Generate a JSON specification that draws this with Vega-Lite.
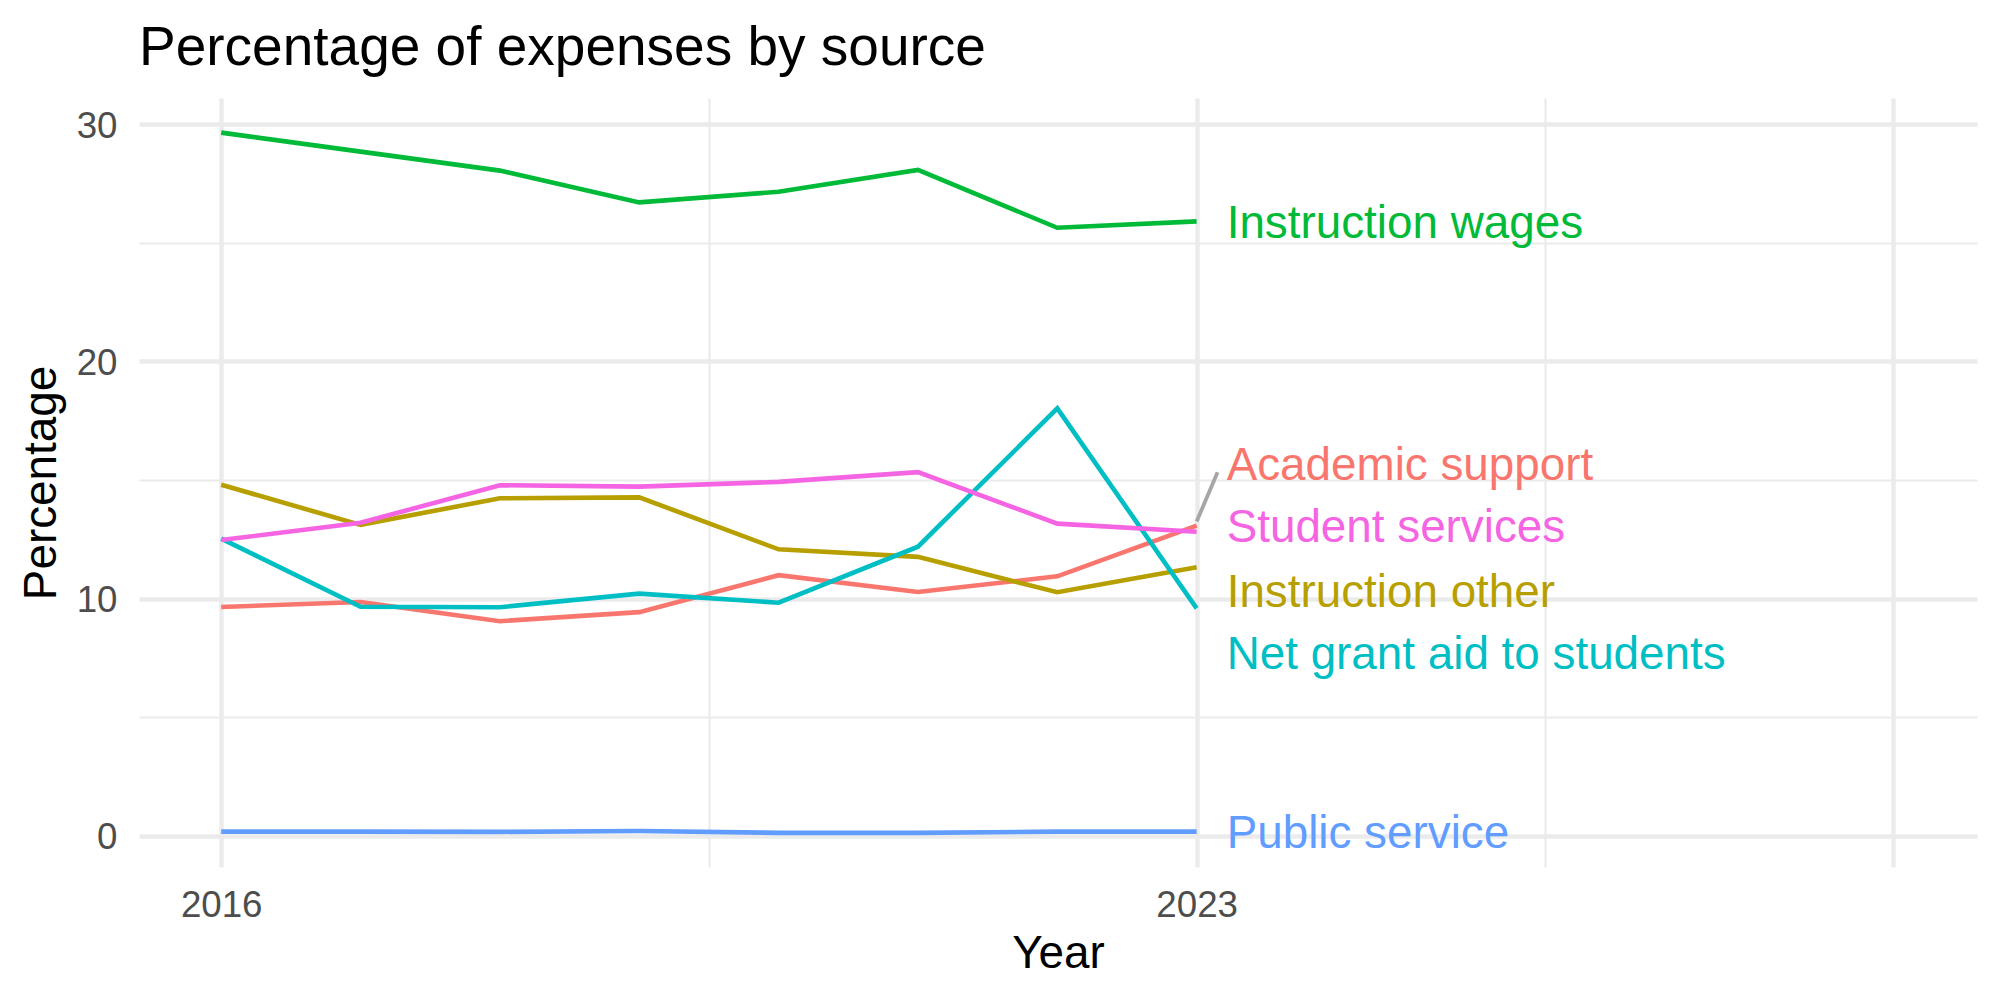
{
  "$schema": "https://vega.github.io/schema/vega-lite/v6.json",
  "width": 1838,
  "height": 769,
  "autosize": {"type": "none"},
  "padding": {"left": 139, "top": 98, "right": 23, "bottom": 133},
  "background": "white",
  "config": {"view": {"stroke": null}, "font": "Liberation Sans"},
  "title": {
    "text": "Percentage of expenses by source",
    "anchor": "start",
    "frame": "group",
    "font": "Liberation Sans",
    "fontSize": 55,
    "fontWeight": "normal",
    "color": "black",
    "baseline": "alphabetic",
    "offset": -22
  },
  "datasets": {
    "expenses": [
      {"year": 2016, "category": "Academic support", "value": 9.65},
      {"year": 2017, "category": "Academic support", "value": 9.86},
      {"year": 2018, "category": "Academic support", "value": 9.05},
      {"year": 2019, "category": "Academic support", "value": 9.43},
      {"year": 2020, "category": "Academic support", "value": 10.99},
      {"year": 2021, "category": "Academic support", "value": 10.28},
      {"year": 2022, "category": "Academic support", "value": 10.94},
      {"year": 2023, "category": "Academic support", "value": 13.08},
      {"year": 2016, "category": "Instruction other", "value": 14.80},
      {"year": 2017, "category": "Instruction other", "value": 13.11},
      {"year": 2018, "category": "Instruction other", "value": 14.23},
      {"year": 2019, "category": "Instruction other", "value": 14.27},
      {"year": 2020, "category": "Instruction other", "value": 12.08},
      {"year": 2021, "category": "Instruction other", "value": 11.76},
      {"year": 2022, "category": "Instruction other", "value": 10.27},
      {"year": 2023, "category": "Instruction other", "value": 11.32},
      {"year": 2016, "category": "Instruction wages", "value": 29.64},
      {"year": 2017, "category": "Instruction wages", "value": 28.84},
      {"year": 2018, "category": "Instruction wages", "value": 28.04},
      {"year": 2019, "category": "Instruction wages", "value": 26.70},
      {"year": 2020, "category": "Instruction wages", "value": 27.15},
      {"year": 2021, "category": "Instruction wages", "value": 28.07},
      {"year": 2022, "category": "Instruction wages", "value": 25.63},
      {"year": 2023, "category": "Instruction wages", "value": 25.90},
      {"year": 2016, "category": "Net grant aid to students", "value": 12.53},
      {"year": 2017, "category": "Net grant aid to students", "value": 9.66},
      {"year": 2018, "category": "Net grant aid to students", "value": 9.64},
      {"year": 2019, "category": "Net grant aid to students", "value": 10.21},
      {"year": 2020, "category": "Net grant aid to students", "value": 9.83},
      {"year": 2021, "category": "Net grant aid to students", "value": 12.19},
      {"year": 2022, "category": "Net grant aid to students", "value": 18.02},
      {"year": 2023, "category": "Net grant aid to students", "value": 9.59},
      {"year": 2016, "category": "Public service", "value": 0.18},
      {"year": 2017, "category": "Public service", "value": 0.18},
      {"year": 2018, "category": "Public service", "value": 0.17},
      {"year": 2019, "category": "Public service", "value": 0.21},
      {"year": 2020, "category": "Public service", "value": 0.13},
      {"year": 2021, "category": "Public service", "value": 0.13},
      {"year": 2022, "category": "Public service", "value": 0.18},
      {"year": 2023, "category": "Public service", "value": 0.18},
      {"year": 2016, "category": "Student services", "value": 12.47},
      {"year": 2017, "category": "Student services", "value": 13.20},
      {"year": 2018, "category": "Student services", "value": 14.78},
      {"year": 2019, "category": "Student services", "value": 14.72},
      {"year": 2020, "category": "Student services", "value": 14.92},
      {"year": 2021, "category": "Student services", "value": 15.33},
      {"year": 2022, "category": "Student services", "value": 13.16},
      {"year": 2023, "category": "Student services", "value": 12.82}
    ],
    "labels": [
      {"year": 2023, "category": "Academic support", "label_value": 15.68},
      {"year": 2023, "category": "Instruction other", "label_value": 10.35},
      {"year": 2023, "category": "Instruction wages", "label_value": 25.87},
      {"year": 2023, "category": "Net grant aid to students", "label_value": 7.73},
      {"year": 2023, "category": "Public service", "label_value": 0.18},
      {"year": 2023, "category": "Student services", "label_value": 13.06}
    ],
    "leaders": [
      {"category": "Academic support", "x": 2023.0, "y": 13.25, "x2": 2023.15, "y2": 15.33}
    ]
  },
  "layer": [
    {
      "data": {"name": "expenses"},
      "mark": {"type": "line", "strokeWidth": 4.6},
      "encoding": {
        "x": {
          "field": "year",
          "type": "quantitative",
          "scale": {"domain": [2015.41, 2028.6], "nice": false, "zero": false},
          "axis": {
            "values": [2016, 2023, 2028],
            "format": "d",
            "labelExpr": "datum.value == 2028 ? '' : datum.label",
            "grid": true,
            "gridColor": "#EBEBEB",
            "gridWidth": 4.4,
            "domain": false,
            "ticks": false,
            "tickSize": 0,
            "labelFont": "Liberation Sans",
            "labelFontSize": 36.7,
            "labelColor": "#4D4D4D",
            "labelPadding": 20,
            "title": "Year",
            "titleFont": "Liberation Sans",
            "titleFontSize": 45.8,
            "titleFontWeight": "normal",
            "titleColor": "black",
            "titleBaseline": "alphabetic",
            "titleAlign": "center",
            "titleX": 919,
            "titleY": 100
          }
        },
        "y": {
          "field": "value",
          "type": "quantitative",
          "scale": {"domain": [-1.31, 31.1], "nice": false, "zero": false},
          "axis": {
            "values": [0, 10, 20, 30],
            "grid": true,
            "gridColor": "#EBEBEB",
            "gridWidth": 4.4,
            "domain": false,
            "ticks": false,
            "tickSize": 0,
            "labelFont": "Liberation Sans",
            "labelFontSize": 36.7,
            "labelColor": "#4D4D4D",
            "labelPadding": 22,
            "labelBaseline": "alphabetic",
            "labelOffset": 13,
            "title": "Percentage",
            "titleFont": "Liberation Sans",
            "titleFontSize": 45.8,
            "titleFontWeight": "normal",
            "titleColor": "black",
            "titleAngle": -90,
            "titleBaseline": "alphabetic",
            "titleAlign": "center",
            "titleX": -84,
            "titleY": 384.5
          }
        },
        "color": {
          "field": "category",
          "type": "nominal",
          "scale": {
            "domain": ["Academic support", "Instruction other", "Instruction wages", "Net grant aid to students", "Public service", "Student services"],
            "range": ["#F8766D", "#B79F00", "#00BA38", "#00BFC4", "#619CFF", "#F564E3"]
          },
          "legend": null
        }
      }
    },
    {
      "data": {"name": "leaders"},
      "mark": {"type": "rule", "color": "#A6A6A6", "strokeWidth": 3.8},
      "encoding": {
        "x": {
          "field": "x",
          "type": "quantitative",
          "axis": {
            "values": [2019.5, 2025.5],
            "grid": true,
            "gridColor": "#EBEBEB",
            "gridWidth": 2.2,
            "labels": false,
            "ticks": false,
            "tickSize": 0,
            "domain": false,
            "title": null
          }
        },
        "x2": {"field": "x2"},
        "y": {
          "field": "y",
          "type": "quantitative",
          "axis": {
            "values": [5, 15, 25],
            "grid": true,
            "gridColor": "#EBEBEB",
            "gridWidth": 2.2,
            "labels": false,
            "ticks": false,
            "tickSize": 0,
            "domain": false,
            "title": null
          }
        },
        "y2": {"field": "y2"}
      }
    },
    {
      "data": {"name": "labels"},
      "mark": {
        "type": "text",
        "align": "left",
        "baseline": "alphabetic",
        "dx": 30,
        "dy": 16.4,
        "font": "Liberation Sans",
        "fontSize": 45.8
      },
      "encoding": {
        "x": {"field": "year", "type": "quantitative", "axis": null},
        "y": {"field": "label_value", "type": "quantitative", "axis": null},
        "text": {"field": "category"},
        "color": {"field": "category", "type": "nominal", "legend": null}
      }
    }
  ],
  "resolve": {"axis": {"x": "independent", "y": "independent"}}
}
